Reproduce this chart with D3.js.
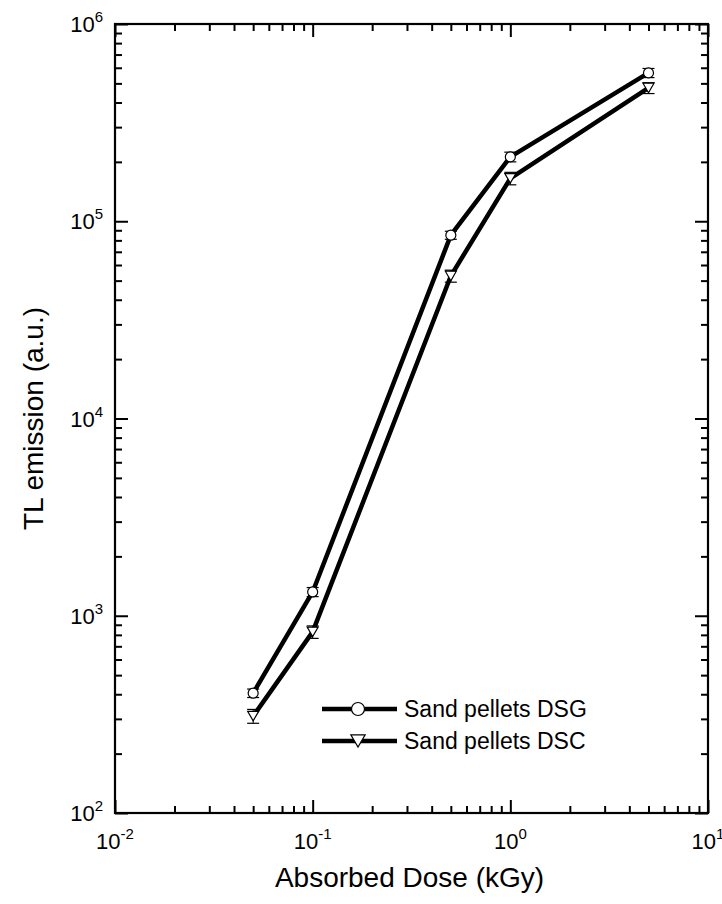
<!DOCTYPE html>
<html>
<head>
<meta charset="utf-8">
<script src="https://cdn.jsdelivr.net/npm/d3@7"></script>
<style>
  body { margin: 0; background: #fff; }
  svg text { font-family: Arial, "Liberation Sans", sans-serif; fill: #000; }
</style>
</head>
<body>
<div id="chart"></div>
<script>
// Data
const doses = [0.05, 0.1, 0.5, 1, 5];
const dsgValues = [405, 1320, 85000, 212000, 565000];
const dsgErrors = [20, 70, 4000, 12000, 30000];
const dscValues = [310, 828, 52800, 165000, 474000];
const dscErrors = [25, 60, 3700, 12000, 30000];
const seriesNames = ["Sand pellets DSG", "Sand pellets DSC"];
const xTickExps = [-2, -1, 0, 1];
const yTickExps = [2, 3, 4, 5, 6];

const width = 722, height = 904;
const margin = { left: 115, right: 14, top: 24, bottom: 91 };

const svg = d3.select('#chart')
    .append('svg')
    .attr('width', width)
    .attr('height', height);

const x = d3.scaleLog().domain([0.01, 10]).range([margin.left, width - margin.right]);
const y = d3.scaleLog().domain([100, 1e6]).range([height - margin.bottom, margin.top]);

// minor + major tick values
function logTicks(lo, hi) {
    const major = [], minor = [];
    for (let e = lo; e <= hi; e++) {
        major.push(Math.pow(10, e));
        if (e < hi) for (let m = 2; m <= 9; m++) minor.push(m * Math.pow(10, e));
    }
    return { major, minor };
}
const xt = logTicks(-2, 1);
const yt = logTicks(2, 6);

const majorLen = 13, minorLen = 7;
const x0 = margin.left, x1 = width - margin.right;
const y0 = height - margin.bottom, y1 = margin.top;

function addAxis(axis, tx, ty) {
    const g = svg.append('g')
        .attr('transform', `translate(${tx},${ty})`)
        .call(axis);
    g.select('.domain').remove();
    g.selectAll('text').remove();
    g.selectAll('line').attr('stroke', '#000').attr('stroke-width', 2);
    return g;
}

// ticks on all four sides, pointing inward
addAxis(d3.axisBottom(x).tickValues(xt.major).tickSize(-majorLen), 0, y0);
addAxis(d3.axisBottom(x).tickValues(xt.minor).tickSize(-minorLen), 0, y0);
addAxis(d3.axisTop(x).tickValues(xt.major).tickSize(-majorLen), 0, y1);
addAxis(d3.axisTop(x).tickValues(xt.minor).tickSize(-minorLen), 0, y1);
addAxis(d3.axisLeft(y).tickValues(yt.major).tickSize(-majorLen), x0, 0);
addAxis(d3.axisLeft(y).tickValues(yt.minor).tickSize(-minorLen), x0, 0);
addAxis(d3.axisRight(y).tickValues(yt.major).tickSize(-majorLen), x1, 0);
addAxis(d3.axisRight(y).tickValues(yt.minor).tickSize(-minorLen), x1, 0);

// frame
svg.append('rect')
    .attr('x', x0).attr('y', y1)
    .attr('width', x1 - x0).attr('height', y0 - y1)
    .attr('fill', 'none').attr('stroke', '#000').attr('stroke-width', 2.2);

// tick labels: 10 with superscript
function powLabel(sel, e) {
    sel.append('tspan').text('10');
    sel.append('tspan').attr('dy', -10).style('font-size', '15px').text(e);
}
xTickExps.forEach(e => {
    const t = svg.append('text')
        .attr('x', x(Math.pow(10, e)))
        .attr('y', y0 + 36)
        .attr('text-anchor', 'middle')
        .style('font-size', '22px');
    powLabel(t, e);
});
yTickExps.forEach(e => {
    const t = svg.append('text')
        .attr('x', x0 - 12)
        .attr('y', y(Math.pow(10, e)) + 8)
        .attr('text-anchor', 'end')
        .style('font-size', '22px');
    powLabel(t, e);
});

// axis titles
svg.append('text')
    .attr('x', (x0 + x1) / 2 - 2)
    .attr('y', 887)
    .attr('text-anchor', 'middle')
    .style('font-size', '28px')
    .text('Absorbed Dose (kGy)');

svg.append('text')
    .attr('transform', `translate(43,${(y0 + y1) / 2}) rotate(-90)`)
    .attr('text-anchor', 'middle')
    .style('font-size', '28px')
    .text('TL emission (a.u.)');

// series
const series = [
    { name: seriesNames[0], values: dsgValues, errors: dsgErrors, marker: 'circle' },
    { name: seriesNames[1], values: dscValues, errors: dscErrors, marker: 'triangle' }
];

const line = d3.line().x(d => x(d.x)).y(d => y(d.y));

function drawMarker(g, type, cx, cy, s) {
    if (type === 'circle') {
        g.append('circle')
            .attr('cx', cx).attr('cy', cy).attr('r', s)
            .attr('fill', '#fff').attr('stroke', '#000').attr('stroke-width', 1.2);
    } else {
        const h = s * 1.9;
        g.append('path')
            .attr('d', `M${cx - s * 1.1},${cy - h / 2}L${cx + s * 1.1},${cy - h / 2}L${cx},${cy + h / 2}Z`)
            .attr('fill', '#fff').attr('stroke', '#000').attr('stroke-width', 1.2);
    }
}

series.forEach(s => {
    const pts = doses.map((d, i) => ({ x: d, y: s.values[i], e: s.errors[i] }));
    const g = svg.append('g');

    g.append('path')
        .datum(pts)
        .attr('d', line)
        .attr('fill', 'none')
        .attr('stroke', '#000')
        .attr('stroke-width', 4.5)
        .attr('stroke-linejoin', 'round');

    // error bars
    pts.forEach(p => {
        const px = x(p.x), ya = y(p.y + p.e), yb = y(p.y - p.e);
        g.append('line').attr('x1', px).attr('x2', px).attr('y1', ya).attr('y2', yb)
            .attr('stroke', '#000').attr('stroke-width', 1);
        [ya, yb].forEach(yy => {
            g.append('line').attr('x1', px - 6).attr('x2', px + 6).attr('y1', yy).attr('y2', yy)
                .attr('stroke', '#000').attr('stroke-width', 1.2);
        });
    });

    pts.forEach(p => drawMarker(g, s.marker, x(p.x), y(p.y), 5));
});

// legend
const legendY = [709, 741];
series.forEach((s, i) => {
    const g = svg.append('g');
    g.append('line')
        .attr('x1', 322).attr('x2', 397)
        .attr('y1', legendY[i]).attr('y2', legendY[i])
        .attr('stroke', '#000').attr('stroke-width', 4.5);
    drawMarker(g, s.marker, 358, legendY[i], 6.5);
    g.append('text')
        .attr('x', 404).attr('y', legendY[i] + 8)
        .style('font-size', '23px')
        .text(s.name);
});
</script>
</body>
</html>
